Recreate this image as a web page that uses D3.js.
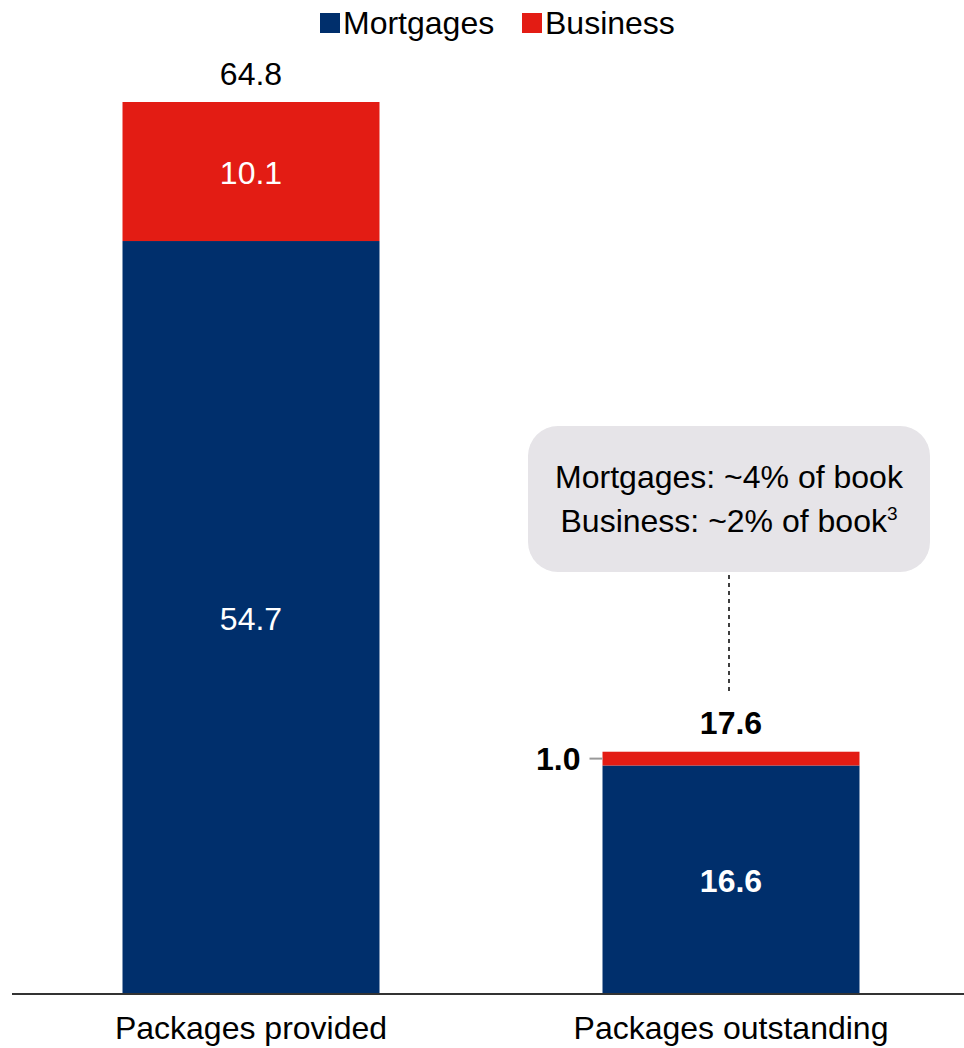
<!DOCTYPE html>
<html lang="en">
<head>
    <meta charset="UTF-8">
    <title>Packages</title>
    <style>
        body {
            margin: 0;
            padding: 0;
            background: #ffffff;
            font-family: 'Liberation Sans', Arial, sans-serif;
        }
    </style>
</head>
<body>
    <script src="https://d3js.org/d3.v7.min.js"></script>
    <script>
        const categories = ["Packages provided", "Packages outstanding"];
        const seriesNames = ["Mortgages", "Business"];
        const mortgages = [54.7, 16.6];
        const business = [10.1, 1.0];
        const totals = [64.8, 17.6];
        const calloutLines = ["Mortgages: ~4% of book", "Business: ~2% of book"];

        const width = 964;
        const height = 1048;
        const baseY = 994;
        const fs = 32;
        const colors = { Mortgages: "#002f6c", Business: "#e31c14" };

        const svg = d3.select("body")
            .append("svg")
            .attr("width", width)
            .attr("height", height)
            .style("font-family", "'Liberation Sans', Arial, sans-serif");

        const x = d3.scaleBand()
            .domain(categories)
            .range([11, 971])
            .paddingInner(0.4646)
            .paddingOuter(0.2323);

        const y = d3.scaleLinear()
            .domain([0, totals[0]])
            .range([baseY, 102]);

        const rows = categories.map((c, i) => ({ cat: c, Mortgages: mortgages[i], Business: business[i], total: totals[i] }));
        const stacked = d3.stack().keys(seriesNames)(rows);

        // bars
        svg.selectAll("g.series")
            .data(stacked)
            .enter()
            .append("g")
            .attr("fill", d => colors[d.key])
            .selectAll("rect")
            .data(d => d)
            .enter()
            .append("rect")
            .attr("x", d => x(d.data.cat))
            .attr("y", d => y(d[1]))
            .attr("width", x.bandwidth())
            .attr("height", d => y(d[0]) - y(d[1]));

        // axis line
        svg.append("line")
            .attr("x1", 12).attr("x2", width)
            .attr("y1", baseY).attr("y2", baseY)
            .attr("stroke", "#333").attr("stroke-width", 2);

        // category labels
        svg.selectAll("text.cat")
            .data(categories)
            .enter()
            .append("text")
            .attr("x", d => x(d) + x.bandwidth() / 2)
            .attr("y", 1039)
            .attr("text-anchor", "middle")
            .attr("font-size", fs)
            .attr("fill", "#000")
            .text(d => d);

        const cx = i => x(categories[i]) + x.bandwidth() / 2;

        // first bar labels (regular weight)
        svg.append("text").attr("x", cx(0)).attr("y", y(totals[0]) - 17)
            .attr("text-anchor", "middle").attr("font-size", fs).attr("fill", "#000")
            .text(totals[0].toFixed(1));
        svg.append("text").attr("x", cx(0)).attr("y", (y(mortgages[0]) + y(totals[0])) / 2 + 12)
            .attr("text-anchor", "middle").attr("font-size", fs).attr("fill", "#fff")
            .text(business[0].toFixed(1));
        svg.append("text").attr("x", cx(0)).attr("y", (y(0) + y(mortgages[0])) / 2 + 12)
            .attr("text-anchor", "middle").attr("font-size", fs).attr("fill", "#fff")
            .text(mortgages[0].toFixed(1));

        // second bar labels (bold)
        svg.append("text").attr("x", cx(1)).attr("y", y(totals[1]) - 18)
            .attr("text-anchor", "middle").attr("font-size", fs).attr("font-weight", "bold").attr("fill", "#000")
            .text(totals[1].toFixed(1));
        svg.append("text").attr("x", cx(1)).attr("y", (y(0) + y(mortgages[1])) / 2 + 12)
            .attr("text-anchor", "middle").attr("font-size", fs).attr("font-weight", "bold").attr("fill", "#fff")
            .text(mortgages[1].toFixed(1));

        const bizMid = (y(mortgages[1]) + y(totals[1])) / 2;
        svg.append("line")
            .attr("x1", x(categories[1]) - 13).attr("x2", x(categories[1]))
            .attr("y1", bizMid).attr("y2", bizMid)
            .attr("stroke", "#999").attr("stroke-width", 2);
        svg.append("text").attr("x", x(categories[1]) - 22).attr("y", bizMid + 11)
            .attr("text-anchor", "end").attr("font-size", fs).attr("font-weight", "bold").attr("fill", "#000")
            .text(business[1].toFixed(1));

        // callout
        svg.append("rect")
            .attr("x", 528).attr("y", 426)
            .attr("width", 402).attr("height", 146)
            .attr("rx", 30).attr("ry", 30)
            .attr("fill", "#e6e4e8");
        svg.append("text").attr("x", 729).attr("y", 488)
            .attr("text-anchor", "middle").attr("font-size", fs).attr("fill", "#000")
            .text(calloutLines[0]);
        const l2 = svg.append("text").attr("x", 729).attr("y", 532)
            .attr("text-anchor", "middle").attr("font-size", fs).attr("fill", "#000");
        l2.append("tspan").text(calloutLines[1]);
        l2.append("tspan").attr("font-size", 19).attr("dy", -12).text("3");

        svg.append("line")
            .attr("x1", 729).attr("x2", 729)
            .attr("y1", 575).attr("y2", y(totals[1]) - 58)
            .attr("stroke", "#000").attr("stroke-width", 1.5)
            .attr("stroke-dasharray", "4,4");

        // legend
        const legendX = [320, 522];
        const legend = svg.selectAll("g.legend")
            .data(seriesNames)
            .enter()
            .append("g")
            .attr("transform", (d, i) => `translate(${legendX[i]}, 13)`);
        legend.append("rect")
            .attr("width", 20).attr("height", 20)
            .attr("fill", d => colors[d]);
        legend.append("text")
            .attr("x", 23).attr("y", 21)
            .attr("font-size", fs).attr("fill", "#000")
            .text(d => d);
    </script>
</body>
</html>
